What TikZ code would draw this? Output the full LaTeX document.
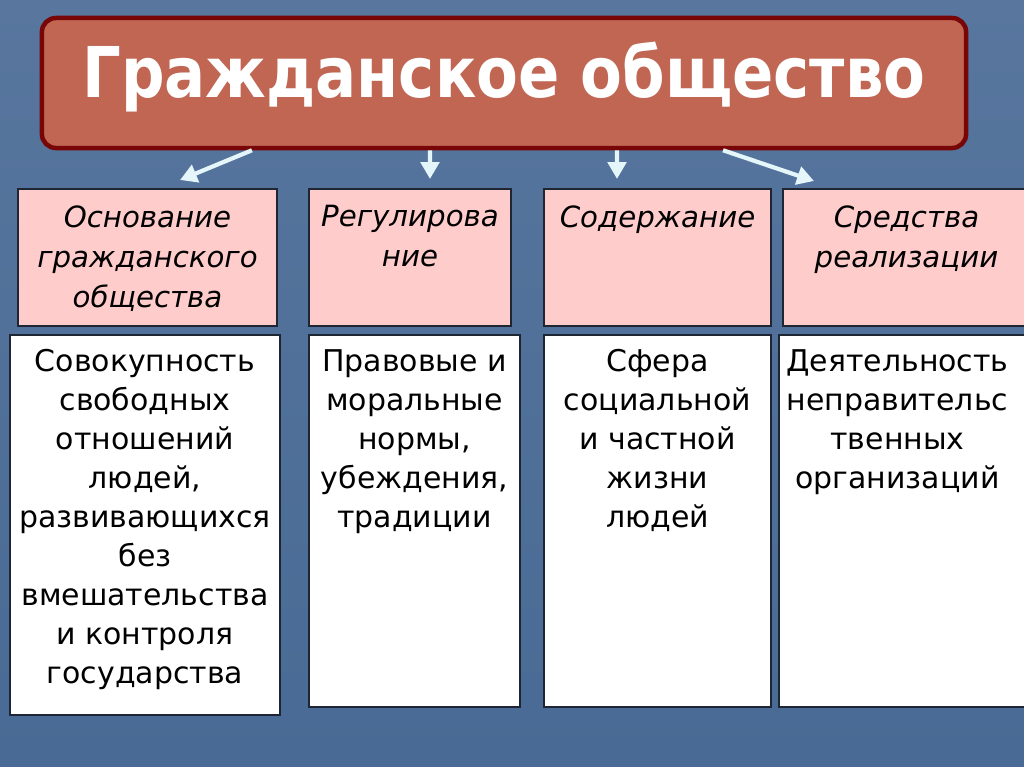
\documentclass[tikz,border=0pt]{standalone}
\usepackage{fontspec}
\setmainfont{DejaVu Sans}
\usepackage{graphicx}
\usetikzlibrary{positioning,arrows.meta}
\definecolor{slatetop}{RGB}{88,118,158}
\definecolor{slatebottom}{RGB}{72,106,148}
\definecolor{headfill}{RGB}{192,102,82}
\definecolor{headline}{RGB}{120,6,6}
\definecolor{pinkfill}{RGB}{255,204,204}
\definecolor{boxline}{RGB}{30,38,52}
\definecolor{arrowcyan}{RGB}{228,246,250}

\begin{document}
\begin{tikzpicture}[
    x=0.025cm, y=-0.025cm,
    headbox/.style={rectangle, draw=headline, line width=3.2pt, fill=headfill, rounded corners=10pt, minimum width=23.1cm, minimum height=3.25cm, inner sep=0pt},
    titletxt/.style={text=white, font=\fontsize{49.8pt}{56pt}\selectfont\bfseries, inner sep=0pt, anchor=base},
    pinkbox/.style={rectangle, draw=boxline, line width=1pt, fill=pinkfill, minimum height=3.425cm, inner sep=0pt},
    whitebox/.style={rectangle, draw=boxline, line width=1pt, fill=white, minimum height=9.3cm, inner sep=0pt},
    headtxt/.style={font=\fontsize{20.8pt}{28.5pt}\selectfont\itshape, align=center, inner sep=0pt},
    bodytxt/.style={font=\fontsize{21.3pt}{27.7pt}\selectfont, align=center, inner sep=0pt},
    flow/.style={-{Triangle[length=12pt, width=13pt]}, line width=3pt, draw=arrowcyan}
]

\useasboundingbox (0,0) rectangle (1024,767);
\clip (0,0) rectangle (1024,767);
\shade[top color=slatetop, bottom color=slatebottom] (0,0) rectangle (1024,767);

% header
\node[headbox] (head) at (504,83) {};
\node[titletxt] (title) at (504,98) {\scalebox{0.87}[1]{Гражданское общество}};

% upper row
\node[pinkbox, minimum width=6.475cm] (p1) at (147.5,257.5) {};
\node[pinkbox, minimum width=5.05cm] (p2) at (410,257.5) {};
\node[pinkbox, minimum width=5.675cm] (p3) at (657.5,257.5) {};
\node[pinkbox, minimum width=6.175cm] (p4) at (906.5,257.5) {};

\node[headtxt, below=0.425cm of p1.north] (p1t) {Основание\\гражданского\\общества};
\node[headtxt, below=0.425cm of p2.north] (p2t) {Регулирова\\ние};
\node[headtxt, below=0.425cm of p3.north] (p3t) {Содержание};
\node[headtxt, below=0.425cm of p4.north] (p4t) {Средства\\реализации};

% lower row
\node[whitebox, minimum width=6.75cm, minimum height=9.5cm] (w1) at (145,525) {};
\node[whitebox, minimum width=5.275cm] (w2) at (414.5,521) {};
\node[whitebox, minimum width=5.675cm] (w3) at (657.5,521) {};
\node[whitebox, minimum width=6.275cm] (w4) at (904.5,521) {};

\node[bodytxt, below=0.375cm of w1.north] (w1t) {Совокупность\\свободных\\отношений\\людей,\\развивающихся\\без\\вмешательства\\и контроля\\государства};
\node[bodytxt, below=0.375cm of w2.north] (w2t) {Правовые и\\моральные\\нормы,\\убеждения,\\традиции};
\node[bodytxt, below=0.375cm of w3.north] (w3t) {Сфера\\социальной\\и частной\\жизни\\людей};
\node[bodytxt, below=0.375cm of w4.north, xshift=-0.175cm] (w4t) {Деятельность\\неправительс\\твенных\\организаций};

% arrows
\coordinate (s1) at ([xshift=-6.3cm]head.south);
\coordinate (s2) at ([xshift=-1.85cm]head.south);
\coordinate (s3) at ([xshift=2.825cm]head.south);
\coordinate (s4) at ([xshift=5.475cm]head.south);
\coordinate (e1) at (180,180);
\coordinate (e2) at (430,179);
\coordinate (e3) at (617,179);
\coordinate (e4) at (814,181);

\draw[flow] (s1) -- (e1);
\draw[flow] (s2) -- (e2);
\draw[flow] (s3) -- (e3);
\draw[flow] (s4) -- (e4);

\end{tikzpicture}
\end{document}
